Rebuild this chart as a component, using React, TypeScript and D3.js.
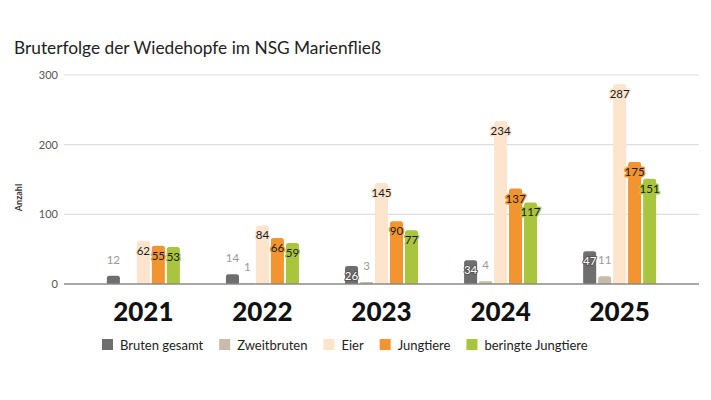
import { useEffect, useRef } from 'react';
import * as d3 from 'd3';

const YEARS = ['2021', '2022', '2023', '2024', '2025'];
const SERIES = ['Bruten gesamt', 'Zweitbruten', 'Eier', 'Jungtiere', 'beringte Jungtiere'];
const COLORS = ['#6e6e6e', '#c9bba9', '#fde5cd', '#f29530', '#a9c53d'];

const BRUTEN = [12, 14, 26, 34, 47];
const ZWEITBRUTEN = [0, 1, 3, 4, 11];
const EIER = [62, 84, 145, 234, 287];
const JUNGTIERE = [55, 66, 90, 137, 175];
const BERINGT = [53, 59, 77, 117, 151];
const VALUES = [BRUTEN, ZWEITBRUTEN, EIER, JUNGTIERE, BERINGT];

const Y_TICKS = [0, 100, 200, 300];

const W = 711;
const H = 400;
const FONT = 'Lato, "Open Sans", sans-serif';

export default function App() {
  const ref = useRef<SVGSVGElement | null>(null);

  useEffect(() => {
    const svg = d3.select(ref.current);
    svg.selectAll('*').remove();

    const left = 64, right = 699, top = 75, bottom = 284;

    const x = d3.scaleBand<string>().domain(YEARS).range([left, right])
      .paddingInner(0.387).paddingOuter(0.36);
    const xs = d3.scaleBand<string>().domain(SERIES).range([0, x.bandwidth()]).paddingInner(0.13);
    const y = d3.scaleLinear().domain([0, 300]).range([bottom, top]);

    svg.append('rect').attr('width', W).attr('height', H).attr('fill', '#fff');

    svg.append('text').attr('x', 14).attr('y', 54)
      .attr('font-family', FONT).attr('font-size', 17.3).attr('fill', '#222')
      .text('Bruterfolge der Wiedehopfe im NSG Marienfließ');

    // grid + tick labels
    const grid = svg.append('g');
    grid.selectAll('line').data(Y_TICKS.filter(t => t > 0)).join('line')
      .attr('x1', left).attr('x2', right)
      .attr('y1', d => y(d)).attr('y2', d => y(d))
      .attr('stroke', '#dedede').attr('stroke-width', 1.2);
    grid.selectAll('text').data(Y_TICKS).join('text')
      .attr('x', 58).attr('y', d => y(d) + 4)
      .attr('text-anchor', 'end').attr('font-family', FONT).attr('font-size', 11)
      .attr('fill', '#555').text(d => d);

    svg.append('text')
      .attr('transform', `translate(22,${(top + bottom) / 2 + 18}) rotate(-90)`)
      .attr('text-anchor', 'middle').attr('font-family', FONT).attr('font-size', 9)
      .attr('font-weight', 700).attr('fill', '#333').text('Anzahl');

    // bars
    const cells = YEARS.flatMap((yr, i) =>
      SERIES.map((s, k) => ({ yr, s, k, v: VALUES[k][i] })));

    const g = svg.append('g');
    g.selectAll('path').data(cells.filter(d => d.v > 0)).join('path')
      .attr('fill', d => COLORS[d.k])
      .attr('d', d => {
        const x0 = x(d.yr)! + xs(d.s)!;
        const w = xs.bandwidth();
        const y0 = y(d.v);
        const r = Math.min(2.5, (bottom - y0) / 2);
        return `M${x0},${bottom}V${y0 + r}Q${x0},${y0} ${x0 + r},${y0}H${x0 + w - r}Q${x0 + w},${y0} ${x0 + w},${y0 + r}V${bottom}Z`;
      });

    svg.append('line').attr('x1', left).attr('x2', right)
      .attr('y1', bottom).attr('y2', bottom)
      .attr('stroke', '#8a8a8a').attr('stroke-width', 1.5);

    // value labels: small bars get a grey label above, the rest sit inside the top
    const lbl = g.selectAll('text.v').data(cells.filter(d => d.k !== 1 || d.v > 0)).join('text')
      .attr('class', 'v')
      .attr('x', d => x(d.yr)! + xs(d.s)! + xs.bandwidth() / 2)
      .attr('text-anchor', 'middle').attr('font-family', FONT).attr('font-size', 11.5)
      .attr('paint-order', 'stroke').attr('stroke-linejoin', 'round');
    lbl.each(function (d) {
      const t = d3.select(this);
      const inside = d.k !== 1 && bottom - y(d.v) > 15;
      if (!inside) {
        t.attr('y', y(d.v) - 12).attr('fill', '#9a9a9a').text(d.v);
      } else if (d.k === 0) {
        t.attr('y', y(d.v) + 14).attr('fill', '#fff')
          .attr('stroke', '#555').attr('stroke-width', 2).text(d.v);
      } else {
        t.attr('y', y(d.v) + 14).attr('fill', '#1a1a1a')
          .attr('stroke', COLORS[d.k]).attr('stroke-width', 3).text(d.v);
      }
    });

    // year labels
    svg.append('g').selectAll('text').data(YEARS).join('text')
      .attr('x', d => x(d)! + x.bandwidth() / 2).attr('y', 321)
      .attr('text-anchor', 'middle').attr('font-family', FONT)
      .attr('font-size', 26).attr('font-weight', 900).attr('fill', '#111')
      .text(d => d);

    // legend
    const leg = svg.append('g');
    let cx = 102;
    SERIES.forEach((s, k) => {
      leg.append('rect').attr('x', cx).attr('y', 339).attr('width', 11).attr('height', 11)
        .attr('fill', COLORS[k]);
      const t = leg.append('text').attr('x', cx + 18).attr('y', 349.5)
        .attr('font-family', FONT).attr('font-size', 13).attr('fill', '#222').text(s);
      const tw = (t.node() as SVGTextElement).getComputedTextLength();
      cx += 18 + tw + 16;
    });
  }, []);

  return (
    <svg ref={ref} width={W} height={H}
      style={{ position: 'absolute', left: 0, top: 0, display: 'block' }} />
  );
}
